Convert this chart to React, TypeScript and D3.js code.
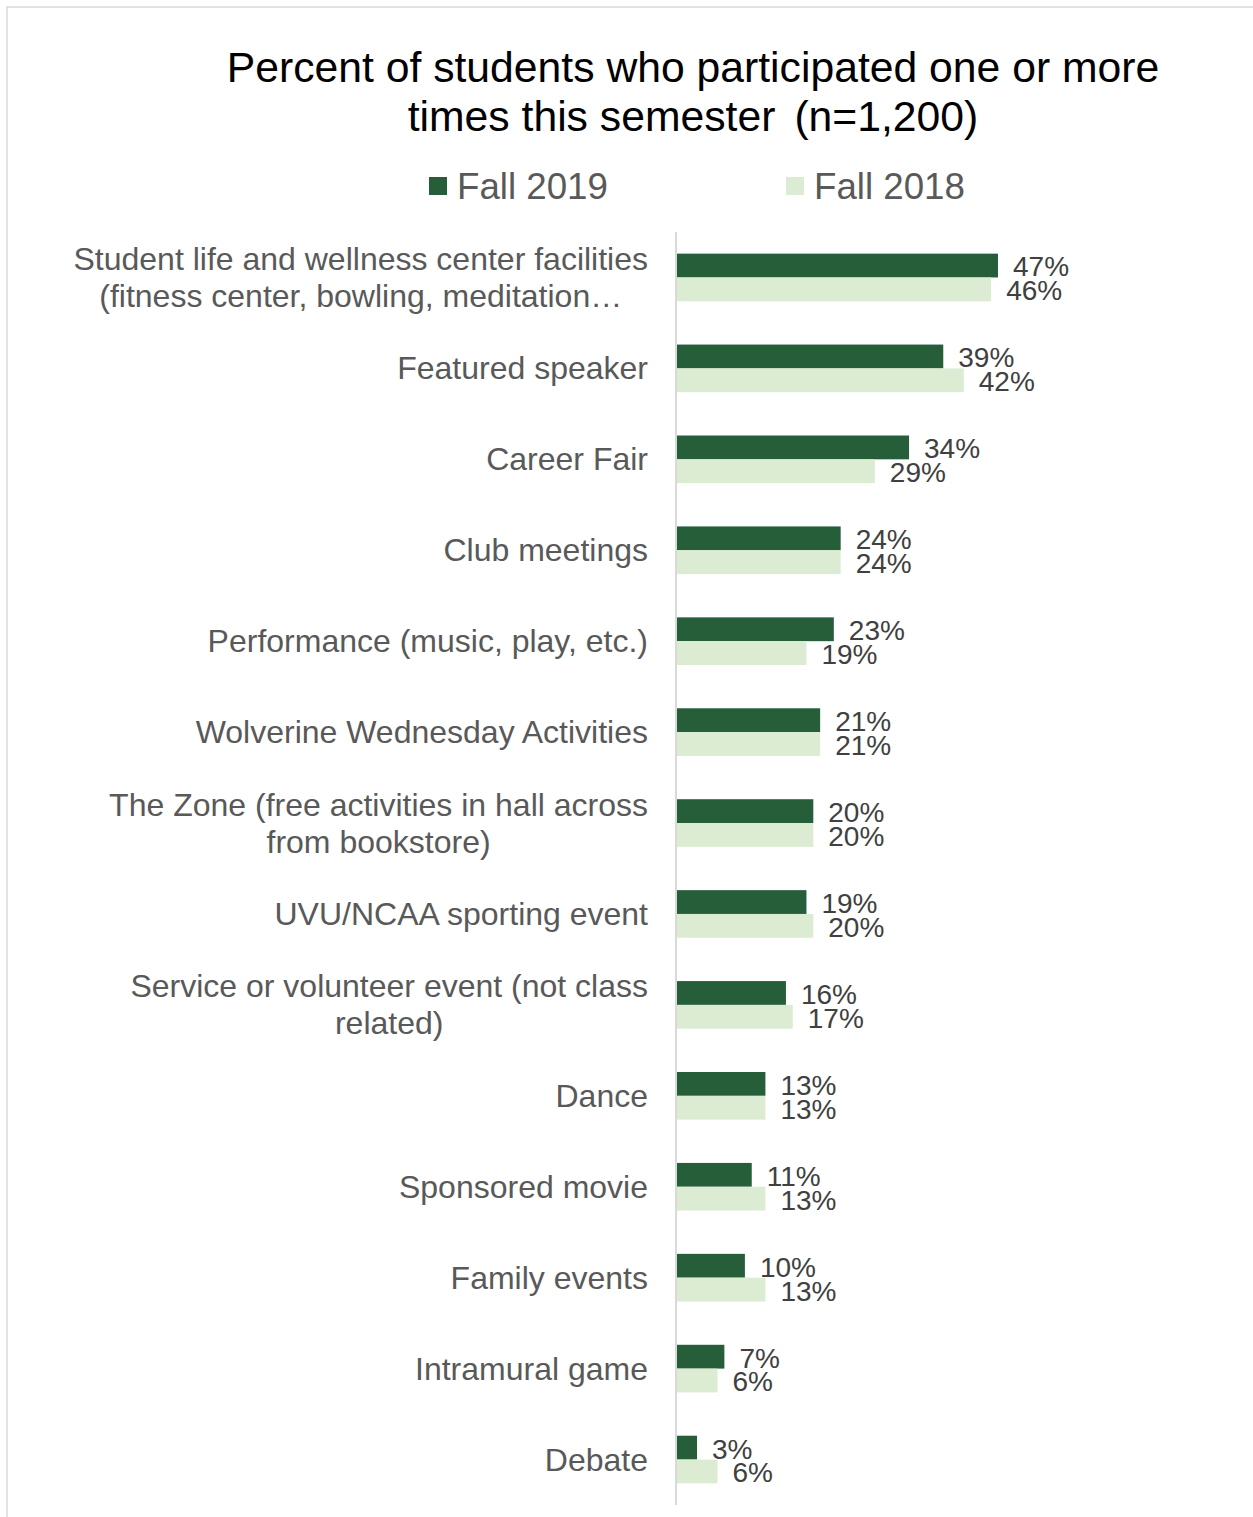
import React, { useMemo } from "react";
import * as d3 from "d3";

const TITLE_LINE_1 = "Percent of students who participated one or more";
const TITLE_LINE_2A = "times this semester";
const TITLE_LINE_2B = "(n=1,200)";
const SERIES = ["Fall 2019", "Fall 2018"];
const COLORS = ["#265E3A", "#DCECD3"];
const CATEGORY_LINES: string[][] = [
  ["Student life and wellness center facilities", "(fitness center, bowling, meditation\u2026"],
  ["Featured speaker"],
  ["Career Fair"],
  ["Club meetings"],
  ["Performance (music, play, etc.)"],
  ["Wolverine Wednesday Activities"],
  ["The Zone (free activities in hall across", "from bookstore)"],
  ["UVU/NCAA sporting event"],
  ["Service or volunteer event (not class", "related)"],
  ["Dance"],
  ["Sponsored movie"],
  ["Family events"],
  ["Intramural game"],
  ["Debate"],
];
const FALL_2019 = [47, 39, 34, 24, 23, 21, 20, 19, 16, 13, 11, 10, 7, 3];
const FALL_2018 = [46, 42, 29, 24, 19, 21, 20, 20, 17, 13, 13, 13, 6, 6];

const FONT = "'Liberation Sans', Arial, Helvetica, sans-serif";
const W = 1253;
const H = 1517;

function useMeasure() {
  return useMemo(() => {
    const canvas = document.createElement("canvas");
    const ctx = canvas.getContext("2d");
    return (text: string, size: number) => {
      if (!ctx) return text.length * size * 0.5;
      ctx.font = `${size}px 'Liberation Sans', Arial, sans-serif`;
      return ctx.measureText(text).width;
    };
  }, []);
}

export default function App() {
  const measure = useMeasure();
  const ids = CATEGORY_LINES.map((_, i) => String(i));
  const y = d3.scaleBand<string>().domain(ids).range([232, 1505]);
  const x = d3.scaleLinear().domain([0, 50]).range([676.5, 1018.5]);
  const barH = y.bandwidth() * 0.262;
  const catSize = 32;
  const valSize = 28;
  const lineGap = 37;
  const labelRight = 648;
  const titleSize = 42.7;
  const gap2 = 19;
  const w2a = measure(TITLE_LINE_2A, titleSize);
  const w2b = measure(TITLE_LINE_2B, titleSize);
  const t2start = 693 - (w2a + gap2 + w2b) / 2;

  return (
    <svg
      width={W}
      height={H}
      style={{ position: "absolute", left: 0, top: 0, background: "#fff" }}
      fontFamily={FONT}
    >
      <rect x={0} y={0} width={W} height={H} fill="#fff" />
      <rect x={7} y={7} width={W + 20} height={H + 20} fill="none" stroke="#D9D9D9" strokeWidth={1.5} />

      {/* Title */}
      <text x={693} y={82} textAnchor="middle" fontSize={titleSize} fill="#000">
        {TITLE_LINE_1}
      </text>
      <text x={t2start} y={131} fontSize={titleSize} fill="#000">
        {TITLE_LINE_2A}
      </text>
      <text x={t2start + w2a + gap2} y={131} fontSize={titleSize} fill="#000">
        {TITLE_LINE_2B}
      </text>

      {/* Legend */}
      {SERIES.map((s, i) => {
        const lx = 429 + i * 357;
        return (
          <g key={s}>
            <rect x={lx} y={177} width={18} height={18} fill={COLORS[i]} />
            <text x={lx + 28} y={199} fontSize={36.7} fill="#595959">
              {s}
            </text>
          </g>
        );
      })}

      {/* Bars */}
      {ids.map((id, i) => {
        const c = (y(id) as number) + y.bandwidth() / 2;
        const vals = [FALL_2019[i], FALL_2018[i]];
        return (
          <g key={id}>
            {vals.map((v, k) => {
              const top = k === 0 ? c - barH : c;
              return (
                <g key={k}>
                  <rect x={x(0)} y={top} width={x(v) - x(0)} height={barH} fill={COLORS[k]} />
                  <text x={x(v) + 15} y={top + barH - 1} fontSize={valSize} fill="#404040">
                    {v}%
                  </text>
                </g>
              );
            })}
          </g>
        );
      })}

      {/* Axis line */}
      <line x1={676} x2={676} y1={232} y2={1505} stroke="#D9D9D9" strokeWidth={2} />

      {/* Category labels */}
      {ids.map((id, i) => {
        const c = (y(id) as number) + y.bandwidth() / 2;
        const lines = CATEGORY_LINES[i];
        const maxW = Math.max(...lines.map((l) => measure(l, catSize)));
        const cx = labelRight - maxW / 2;
        const startY = c - ((lines.length - 1) * lineGap) / 2 + 11;
        return (
          <g key={id}>
            {lines.map((l, j) => (
              <text
                key={j}
                x={lines.length === 1 ? labelRight : cx}
                y={startY + j * lineGap}
                textAnchor={lines.length === 1 ? "end" : "middle"}
                fontSize={catSize}
                fill="#595959"
              >
                {l}
              </text>
            ))}
          </g>
        );
      })}
    </svg>
  );
}
